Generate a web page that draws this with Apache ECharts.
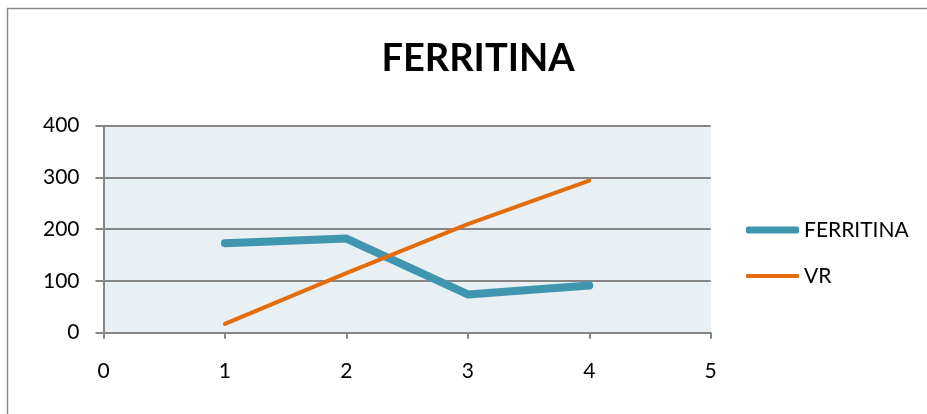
<!DOCTYPE html>
<html>
<head>
<meta charset="utf-8">
<script src="https://cdn.jsdelivr.net/npm/echarts@6/dist/echarts.min.js"></script>
<style>
  html, body { margin: 0; padding: 0; background: #fff; }
  #chart { width: 927px; height: 414px; }
</style>
</head>
<body>
<div id="chart"></div>
<script>
// Sample positions (x) and measured values per series
const xValues = [1, 2, 3, 4];
const ferritina = [173, 182, 74, 91];
const vr = [17, 115, 210, 294];
const yTicks = [0, 100, 200, 300, 400];
const xTicks = [0, 1, 2, 3, 4, 5];

const FONT = 'Lato, "Open Sans", sans-serif';
const TEAL = '#4096AF';
const ORANGE = '#E46C0A';
const chart = echarts.init(document.getElementById('chart'), null, { renderer: 'canvas' });

// one legend block per series so each key line can keep its own thickness
function legendFor(name, top, thickness) {
  return {
    data: [name],
    left: 746,
    top: top,
    padding: 0,
    itemWidth: 53,
    itemHeight: thickness,
    itemGap: 0,
    icon: 'roundRect',
    textStyle: { fontFamily: FONT, fontSize: 21, color: '#000' }
  };
}

chart.setOption({
  animation: false,
  backgroundColor: '#ffffff',
  title: {
    text: 'FERRITINA',
    left: 473,
    textAlign: 'center',
    top: 35,
    textStyle: { fontFamily: FONT, fontWeight: 'bold', fontSize: 38, color: '#000' }
  },
  graphic: [{
    type: 'rect',
    shape: { x: 7.5, y: 8.5, width: 940, height: 420 },
    style: { fill: 'none', stroke: '#8a8a8a', lineWidth: 1.5 },
    silent: true,
    z: 0
  }],
  legend: [
    legendFor('FERRITINA', 219.5, 7),
    legendFor('VR', 265.5, 4)
  ],
  grid: {
    left: 103.5, right: 927 - 710.7, top: 125.7, bottom: 414 - 332.7,
    show: true, backgroundColor: '#E8F0F4', borderWidth: 0
  },
  xAxis: {
    type: 'value',
    min: xTicks[0], max: xTicks[xTicks.length - 1], interval: 1,
    axisLine: { show: true, lineStyle: { color: '#868686', width: 2 } },
    axisTick: { show: true, length: 6, lineStyle: { color: '#868686', width: 2 } },
    axisLabel: { fontFamily: FONT, fontSize: 21, color: '#000', margin: 28 },
    splitLine: { show: false }
  },
  yAxis: {
    type: 'value',
    min: yTicks[0], max: yTicks[yTicks.length - 1], interval: 100,
    axisLine: { show: true, lineStyle: { color: '#868686', width: 2 } },
    axisTick: { show: true, length: 8, lineStyle: { color: '#868686', width: 2 } },
    axisLabel: { fontFamily: FONT, fontSize: 21, color: '#000', margin: 24 },
    splitLine: { show: true, lineStyle: { color: '#868686', width: 2 } }
  },
  series: [
    {
      name: 'FERRITINA', type: 'line',
      data: xValues.map((x, i) => [x, ferritina[i]]),
      showSymbol: false, symbol: 'none',
      lineStyle: { color: TEAL, width: 8, cap: 'round', join: 'round' },
      itemStyle: { color: TEAL }
    },
    {
      name: 'VR', type: 'line',
      data: xValues.map((x, i) => [x, vr[i]]),
      showSymbol: false, symbol: 'none',
      lineStyle: { color: ORANGE, width: 4, cap: 'round', join: 'round' },
      itemStyle: { color: ORANGE }
    }
  ]
});
</script>
</body>
</html>
